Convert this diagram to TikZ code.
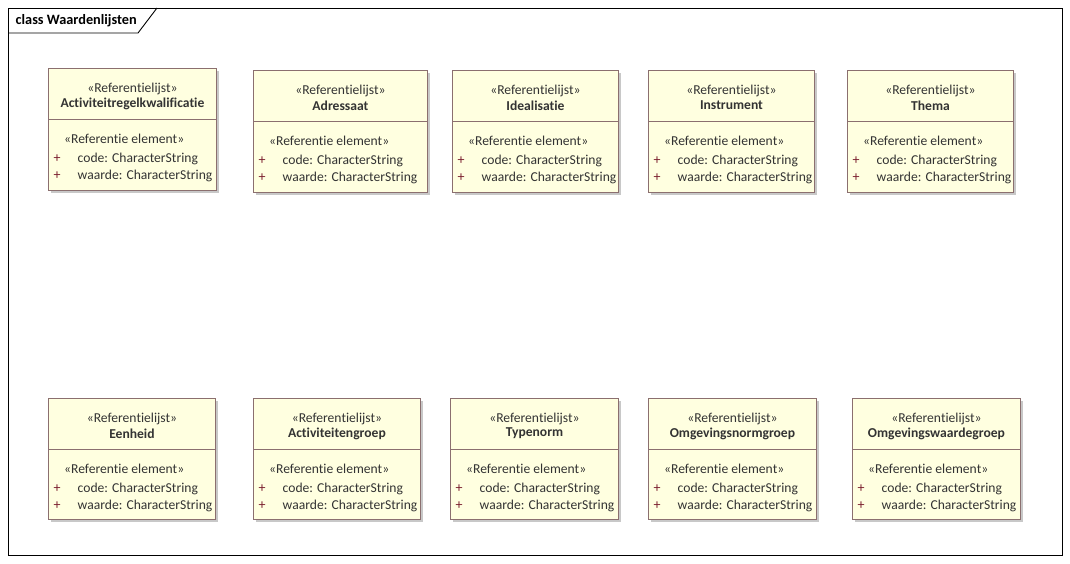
\documentclass[tikz,border=0pt]{standalone}
\usepackage{fontspec}
\setmainfont[Ligatures={CommonOff}]{Carlito}
\definecolor{boxfill}{HTML}{FFFFE0}
\definecolor{boxline}{HTML}{8B6F6F}
\definecolor{shadowgray}{HTML}{C8C8C8}
\definecolor{txtgray}{HTML}{333333}
\definecolor{plusred}{HTML}{7A1E2E}
\tikzset{
  cls/.style={draw=boxline, line width=0.9pt, fill=boxfill, inner sep=0pt,
    preaction={fill=shadowgray, transform canvas={xshift=3pt,yshift=-3pt}}},
  divline/.style={draw=boxline, line width=0.9pt},
  txt/.style={inner sep=0pt, text=txtgray, font=\fontsize{13.6}{15}\selectfont},
  ttl/.style={inner sep=0pt, text=txtgray, font=\fontsize{13.6}{15}\selectfont\bfseries},
  plus/.style={inner sep=0pt, text=plusred, font=\fontsize{14}{15}\selectfont},
  attr/.style={inner sep=0pt, anchor=west, text=txtgray, font=\fontsize{13.6}{15}\selectfont},
  framebox/.style={draw=black, line width=0.9pt},
}
\newcommand{\refbox}[6]{%
  \node[cls, minimum width=#4pt, minimum height=#5pt, anchor=north west] (#1) at (#2,#3) {};
  \draw[divline] ([yshift=-51pt]#1.north west) -- ([yshift=-51pt]#1.north east);
  \node[txt] (#1-st) at ([yshift=-20.5pt]#1.north) {«Referentielijst»};
  \node[ttl] (#1-nm) at ([yshift=-35.5pt]#1.north) {#6};
  \node[txt, anchor=west] (#1-re) at ([xshift=16pt,yshift=-71pt]#1.north west) {«Referentie element»};
  \node[plus] (#1-p1) at ([xshift=9pt,yshift=-90.5pt]#1.north west) {+};
  \node[attr] (#1-a1) at ([xshift=29.5pt,yshift=-90.5pt]#1.north west) {code: CharacterString};
  \node[plus] (#1-p2) at ([xshift=9pt,yshift=-108pt]#1.north west) {+};
  \node[attr] (#1-a2) at ([xshift=29.5pt,yshift=-108pt]#1.north west) {waarde: CharacterString};
}
\begin{document}
\begin{tikzpicture}[x=1pt,y=-1pt]
  \useasboundingbox[fill=white] (0,0) rectangle (1070,563);
  % frame
  \node[framebox, minimum width=1054pt, minimum height=547pt, anchor=north west, inner sep=0pt] (frame) at (8,8) {};
  \coordinate (tabA) at (8,33);
  \coordinate (tabB) at (138,33);
  \coordinate (tabC) at (157,8);
  \draw[framebox] (tabA) -- (tabB) -- (tabC);
  \node[inner sep=0pt, anchor=west, font=\fontsize{14.3}{16}\selectfont\bfseries] (framelabel) at (15.5,20.5) {class Waardenlijsten};
  % top row
  \refbox{b1}{48}{68}{168}{122}{Activiteitregelkwalificatie}
  \refbox{b2}{253}{70}{174}{122}{Adressaat}
  \refbox{b3}{452}{70}{166}{122}{Idealisatie}
  \refbox{b4}{648}{70}{166}{122}{Instrument}
  \refbox{b5}{847}{70}{166}{122}{Thema}
  % bottom row
  \refbox{b6}{48}{398}{167}{121}{Eenheid}
  \refbox{b7}{253}{398}{167}{121}{Activiteitengroep}
  \refbox{b8}{450}{398}{168}{121}{Typenorm}
  \refbox{b9}{648}{398}{168}{121}{Omgevingsnormgroep}
  \refbox{b10}{852}{398}{168}{121}{Omgevingswaardegroep}
\end{tikzpicture}
\end{document}
